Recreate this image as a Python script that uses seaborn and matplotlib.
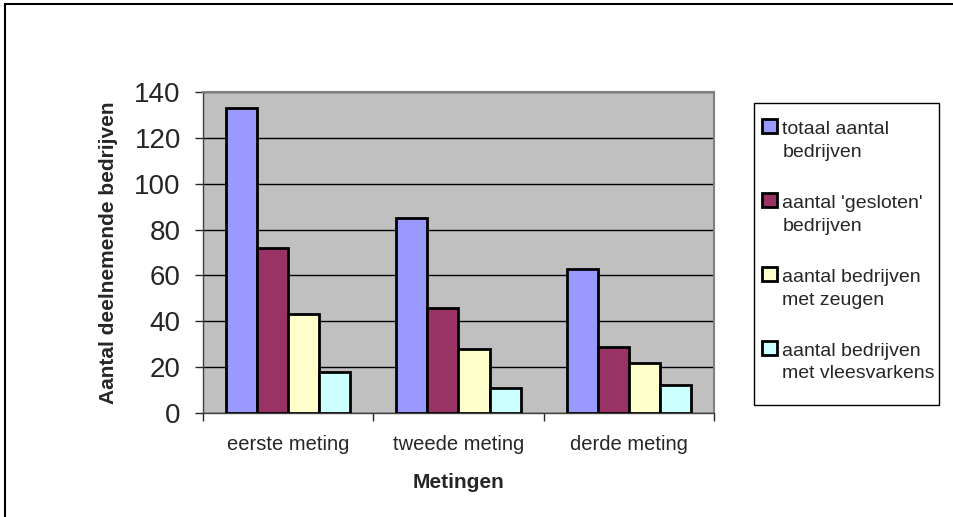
import numpy as np
import pandas as pd
import matplotlib
matplotlib.use("Agg")
import matplotlib.pyplot as plt
import seaborn as sns
from matplotlib.patches import Rectangle
from matplotlib.legend_handler import HandlerPatch

# data
metingen = ["eerste meting", "tweede meting", "derde meting"]
totaal = [133, 85, 63]
gesloten = [72, 46, 29]
zeugen = [43, 28, 22]
vleesvarkens = [18, 11, 12]

series_names = ["totaal aantal\nbedrijven", "aantal 'gesloten'\nbedrijven",
                "aantal bedrijven\nmet zeugen", "aantal bedrijven\nmet vleesvarkens"]
colors = ["#9999FF", "#993366", "#FFFFCC", "#CCFFFF"]

df = pd.DataFrame({
    "meting": metingen * 4,
    "reeks": np.repeat(series_names, 3),
    "aantal": totaal + gesloten + zeugen + vleesvarkens,
})

sns.set_style("white")
plt.rcParams['font.family'] = ['Liberation Sans', 'DejaVu Sans']

fig = plt.figure(figsize=(9.54, 5.17), dpi=100)
ax = fig.add_axes([203 / 954, 1 - 413 / 517, 511 / 954, 321 / 517])

sns.barplot(data=df, x="meting", y="aantal", hue="reeks", palette=colors,
            width=0.73, edgecolor="black", linewidth=2, saturation=1,
            ax=ax, legend=True, zorder=3)

ax.set_facecolor("#C0C0C0")
ax.set_ylim(0, 140)
ax.set_xlim(-0.5, 2.5)
ax.set_yticks(range(0, 141, 20))
ax.yaxis.grid(True, color="black", linewidth=1, zorder=0)
ax.set_axisbelow(True)
ax.tick_params(axis="y", labelsize=20, direction="out", length=6, width=1, left=True, pad=10)
ax.tick_params(axis="x", labelsize=14.5, bottom=False, pad=12)
ax.set_xticks([-0.5, 0.5, 1.5, 2.5], minor=True)
ax.tick_params(axis="x", which="minor", direction="out", length=6, width=1, bottom=True)

for side in ["top", "right"]:
    ax.spines[side].set_color("#808080")
    ax.spines[side].set_linewidth(1.5)
for side in ["left", "bottom"]:
    ax.spines[side].set_color("#404040")
    ax.spines[side].set_linewidth(1)

ax.set_xlabel("Metingen", fontsize=15, fontweight="bold", labelpad=14)
ax.set_ylabel("Aantal deelnemende bedrijven", fontsize=15, fontweight="bold", labelpad=12)


def top_square(legend, orig_handle, xdescent, ydescent, width, height, fontsize):
    # put the square next to the first text line, like the original
    return Rectangle((-xdescent, -ydescent + 0.75 * fontsize), width, height)


handles, labels = ax.get_legend_handles_labels()
ax.get_legend().remove()
for h in handles:
    h.set_linewidth(2)
leg = fig.legend(handles, labels, loc="upper left",
                 bbox_to_anchor=(762 / 954, 1 - 121 / 517), fontsize=14,
                 frameon=False, labelspacing=1.75, handlelength=0.75, handleheight=0.75,
                 handletextpad=0.3, borderpad=0, borderaxespad=0,
                 handler_map={Rectangle: HandlerPatch(patch_func=top_square)})
for t in leg.get_texts():
    t.set_linespacing(1.45)

# legend box
fig.patches.append(Rectangle((754 / 954, 1 - 405 / 517), 185 / 954, 302 / 517,
                             transform=fig.transFigure, fill=False,
                             edgecolor="black", linewidth=1))

# outer chart border
fig.patches.append(Rectangle((5 / 954, -0.1), 1.2, 1.1 - 4 / 517, transform=fig.transFigure,
                             fill=False, edgecolor="black", linewidth=1.5))

fig.savefig("out.png", dpi=100)
